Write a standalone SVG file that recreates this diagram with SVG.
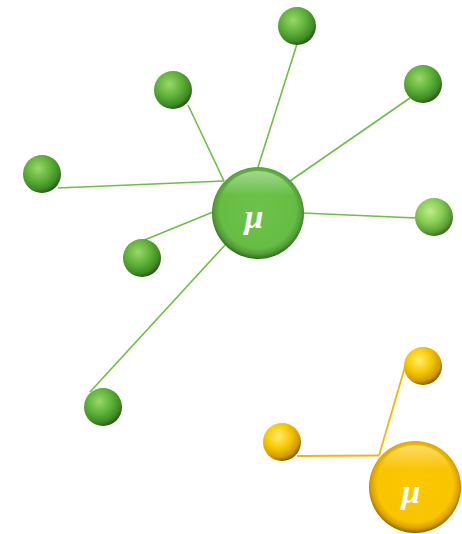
<svg xmlns="http://www.w3.org/2000/svg" width="462" height="534" viewBox="0 0 462 534">
<defs>
<radialGradient id="gs" cx="0.4" cy="0.35" r="0.65">
<stop offset="0" stop-color="#9ad86a"/>
<stop offset="0.5" stop-color="#5fb23a"/>
<stop offset="0.85" stop-color="#3f8a24"/>
<stop offset="1" stop-color="#2c5e18"/>
</radialGradient>
<radialGradient id="gs2" cx="0.4" cy="0.35" r="0.65">
<stop offset="0" stop-color="#c2ec8e"/>
<stop offset="0.5" stop-color="#86cc52"/>
<stop offset="0.85" stop-color="#5a9e34"/>
<stop offset="1" stop-color="#3e7222"/>
</radialGradient>
<radialGradient id="ys" cx="0.4" cy="0.35" r="0.65">
<stop offset="0" stop-color="#ffee70"/>
<stop offset="0.5" stop-color="#f7c800"/>
<stop offset="0.85" stop-color="#d29a00"/>
<stop offset="1" stop-color="#8a6400"/>
</radialGradient>
<radialGradient id="gb" cx="0.5" cy="0.47" r="0.53">
<stop offset="0" stop-color="#6cc24a"/>
<stop offset="0.78" stop-color="#66bd44"/>
<stop offset="0.9" stop-color="#539e36"/>
<stop offset="1" stop-color="#2f6a1c"/>
</radialGradient>
<radialGradient id="yb" cx="0.5" cy="0.47" r="0.53">
<stop offset="0" stop-color="#fcc800"/>
<stop offset="0.78" stop-color="#f9c400"/>
<stop offset="0.9" stop-color="#dca200"/>
<stop offset="1" stop-color="#8e6600"/>
</radialGradient>
<linearGradient id="rim" x1="0" y1="0" x2="0" y2="1">
<stop offset="0" stop-color="#fff" stop-opacity="0.4"/>
<stop offset="0.3" stop-color="#fff" stop-opacity="0"/>
</linearGradient>
</defs>
<style>
.lg{stroke:#6dbf45;stroke-width:1.6;fill:none}
.ly{stroke:#f5b800;stroke-width:1.8;fill:none}
.mu{font-family:"Liberation Serif",serif;font-style:italic;font-weight:bold;font-size:34px;fill:#fff;text-anchor:middle}
</style>
<g id="connectors">
<line class="lg" x1="258" y1="167" x2="297" y2="44"/>
<line class="lg" x1="224" y1="181" x2="188" y2="105"/>
<line class="lg" x1="290" y1="181" x2="410" y2="98"/>
<line class="lg" x1="224" y1="181" x2="58" y2="188"/>
<line class="lg" x1="213" y1="212" x2="142" y2="241"/>
<line class="lg" x1="303" y1="213" x2="416" y2="218"/>
<line class="lg" x1="225" y1="245" x2="90" y2="392"/>
<line class="ly" x1="297" y1="456" x2="379" y2="455.5"/>
<line class="ly" x1="379" y1="455.5" x2="407" y2="360"/>
</g>
<g id="n1"><circle cx="297" cy="26" r="19" fill="url(#gs)"/></g>
<g id="n2"><circle cx="173" cy="90" r="19" fill="url(#gs)"/></g>
<g id="n3"><circle cx="423" cy="84" r="19" fill="url(#gs)"/></g>
<g id="n4"><circle cx="42" cy="174" r="19" fill="url(#gs)"/></g>
<g id="n5"><circle cx="142" cy="258" r="19" fill="url(#gs)"/></g>
<g id="n6"><circle cx="434" cy="217" r="19" fill="url(#gs2)"/></g>
<g id="n7"><circle cx="103" cy="407" r="19" fill="url(#gs)"/></g>
<g id="center-green">
<circle cx="258" cy="213" r="46" fill="url(#gb)"/>
<circle cx="258" cy="212" r="41" fill="url(#rim)"/>
<text class="mu" x="254" y="228">μ</text>
</g>
<g id="y1"><circle cx="423" cy="366" r="19" fill="url(#ys)"/></g>
<g id="y2"><circle cx="282" cy="442" r="19" fill="url(#ys)"/></g>
<g id="center-yellow">
<circle cx="415" cy="487" r="46" fill="url(#yb)"/>
<circle cx="415" cy="486" r="41" fill="url(#rim)"/>
<text class="mu" x="411" y="503">μ</text>
</g>
</svg>
